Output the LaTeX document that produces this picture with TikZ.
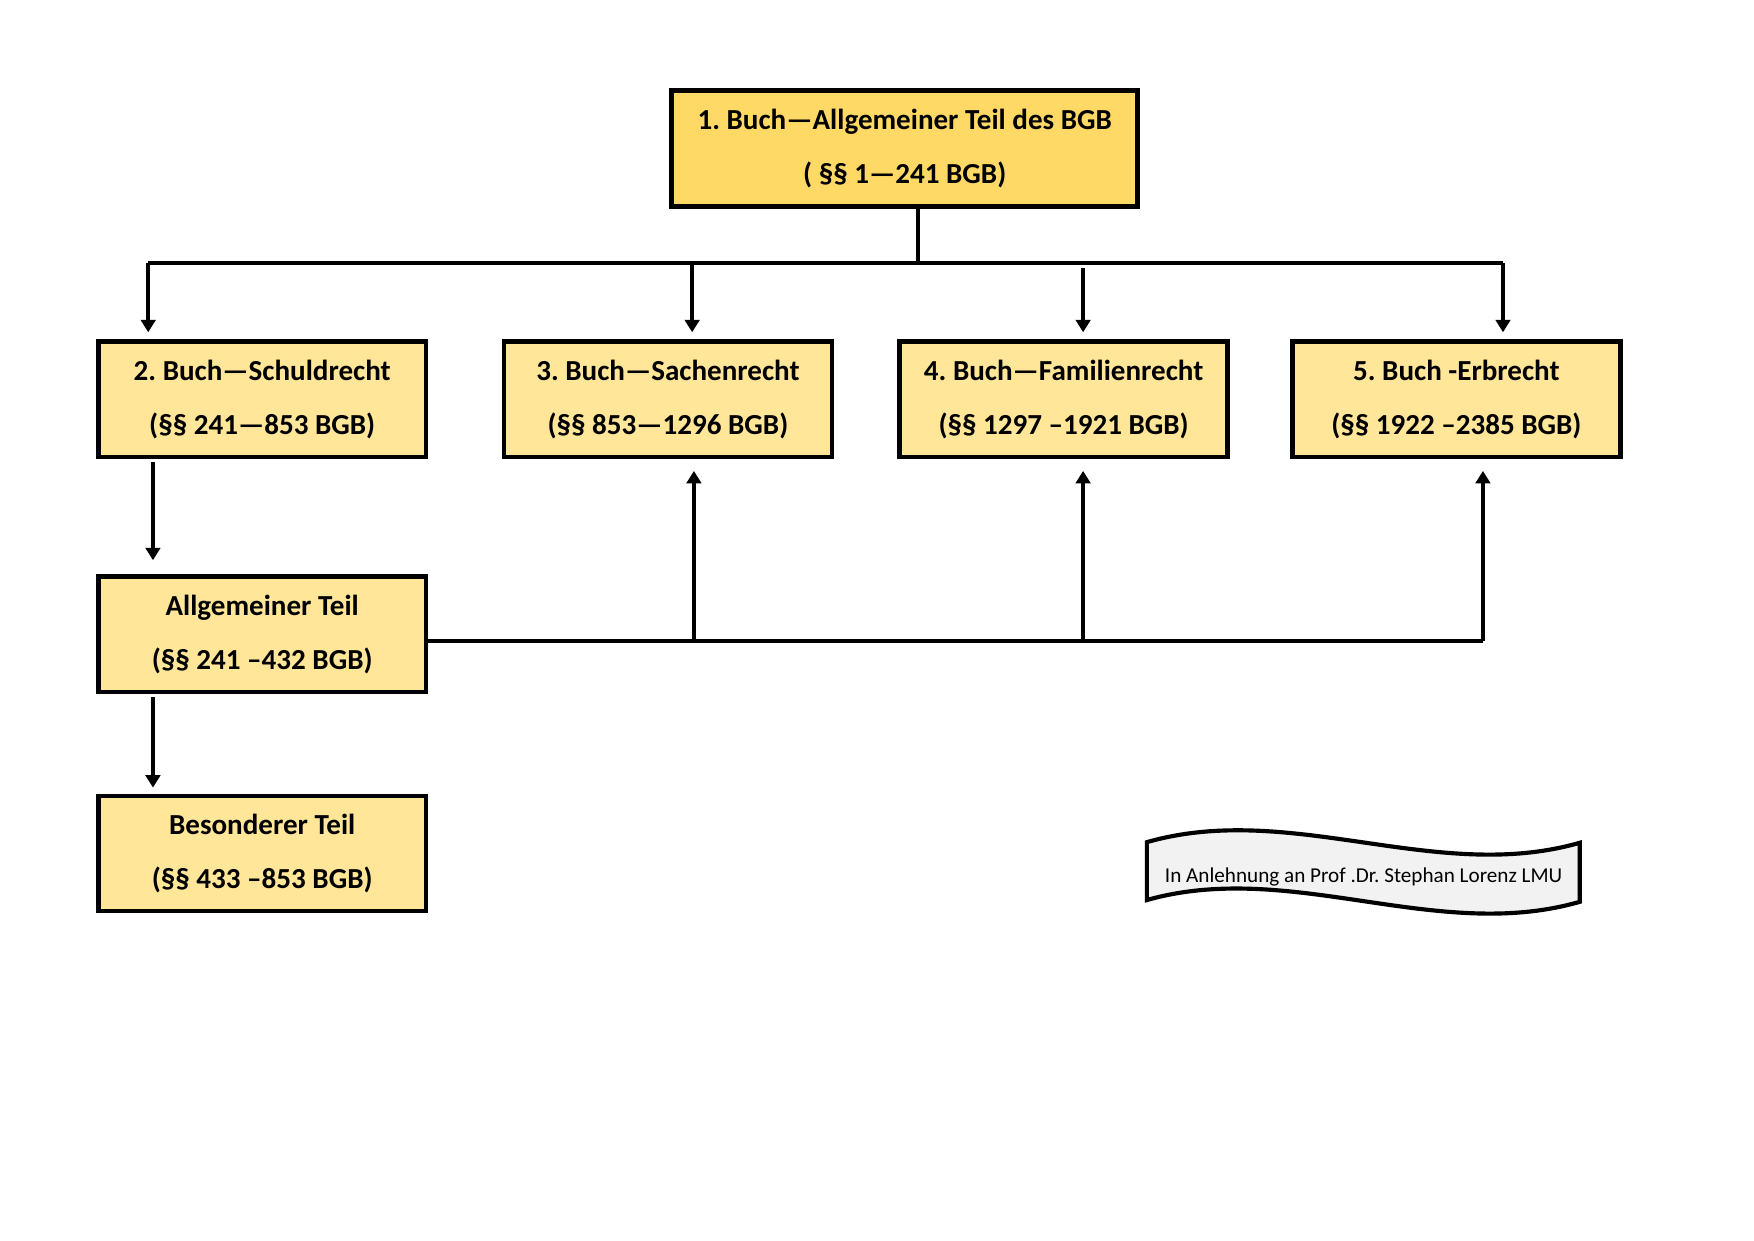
\documentclass[tikz,border=0pt]{standalone}
\usepackage{fontspec}
\setmainfont{Carlito}
\frenchspacing
\usetikzlibrary{arrows.meta}
\definecolor{buchgold}{HTML}{FFD966}
\definecolor{buchgelb}{HTML}{FFE699}
\definecolor{notizgrau}{HTML}{F2F2F2}

\begin{document}
\begin{tikzpicture}[
		buch/.style={draw=black, line width=2.2pt, fill=buchgelb, minimum width=5.55cm, minimum height=1.95cm, inner sep=0pt, align=center, font=\fontsize{14}{26}\selectfont\bfseries},
		pfeil/.style={line width=1.8pt, -{Triangle[width=7pt,length=6pt]}},
		linie/.style={line width=1.8pt}
	]
		%%%%% START %%%%%
		\useasboundingbox (0, 0) rectangle (29.7, 21);
		
		\node[buch, fill=buchgold, line width=2.4pt, minimum width=7.89cm, minimum height=1.96cm] (buch1) at (15.32, 18.48) {1. Buch—Allgemeiner Teil des BGB\\( §§ 1—241 BGB)};
		
		\node[buch] (buch2) at (4.44, 14.24) {2. Buch—Schuldrecht\\(§§ 241—853 BGB)};
		\node[buch] (buch3) at (11.31, 14.24) {3. Buch—Sachenrecht\\(§§ 853—1296 BGB)};
		\node[buch] (buch4) at (18.01, 14.24) {4. Buch—Familienrecht\\(§§ 1297 –1921 BGB)};
		\node[buch] (buch5) at (24.66, 14.24) {5. Buch -Erbrecht\\(§§ 1922 –2385 BGB)};
		
		\node[buch] (allgteil) at (4.44, 10.26) {Allgemeiner Teil\\(§§ 241 –432 BGB)};
		\node[buch] (besteil) at (4.44, 6.55) {Besonderer Teil\\(§§ 433 –853 BGB)};
		
		% obere Verteilung
		\coordinate (stamm) at (15.54, 16.55);
		\coordinate (j2) at (2.51, 16.55);
		\coordinate (j3) at (11.72, 16.55);
		\coordinate (j4) at (18.34, 16.46);
		\coordinate (j5) at (25.45, 16.55);
		
		\draw[linie] (buch1.south -| stamm) -- (stamm);
		\draw[linie] (j2) -- (j5);
		\draw[pfeil, shorten >=1.2mm] (j2) -- (j2 |- buch2.north);
		\draw[pfeil, shorten >=1.2mm] (j3) -- (j3 |- buch3.north);
		\draw[pfeil, shorten >=1.2mm] (j4) -- (j4 |- buch4.north);
		\draw[pfeil, shorten >=1.2mm] (j5) -- (j5 |- buch5.north);
		
		% Schuldrecht nach unten
		\coordinate (links) at (2.59, 0);
		\draw[pfeil, shorten <=0.5mm, shorten >=2.4mm] (links |- buch2.south) -- (links |- allgteil.north);
		\draw[pfeil, shorten <=0.5mm, shorten >=1mm] (links |- allgteil.south) -- (links |- besteil.north);
		
		% untere Verteilung
		\coordinate (u3) at (11.75, 10.15);
		\coordinate (u4) at (18.34, 10.15);
		\coordinate (u5) at (25.11, 10.15);
		
		\draw[linie] (allgteil.east |- u3) -- (u5);
		\draw[pfeil, shorten >=2mm] (u3) -- (u3 |- buch3.south);
		\draw[pfeil, shorten >=2mm] (u4) -- (u4 |- buch4.south);
		\draw[pfeil, shorten >=2mm] (u5) -- (u5 |- buch5.south);
		
		% Notiz
		\draw[line width=2pt, fill=notizgrau] (19.42, 6.74) .. controls (21.86, 7.44) and (24.32, 6.03) .. (26.75, 6.73) -- (26.75, 5.73) .. controls (24.32, 5.03) and (21.86, 6.45) .. (19.42, 5.76) -- cycle;
		\node[font=\fontsize{10.2}{12}\selectfont] (notiz) at (23.09, 6.15) {In Anlehnung an Prof .Dr. Stephan Lorenz LMU};
		
		%%%%% END %%%%%
	\end{tikzpicture}
\end{document}
